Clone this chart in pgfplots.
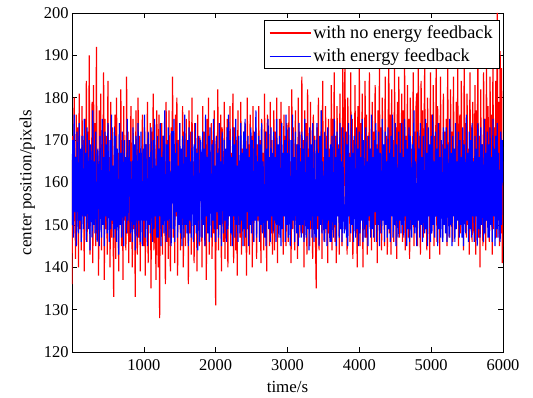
\documentclass[border=0pt]{standalone}
\usepackage{pgfplots}
\pgfplotsset{compat=1.18}
\usepackage{pgfplotstable}
\usepackage{fontspec}
\setmainfont{Liberation Serif}
\pgfplotstableread[row sep=\\]{y\\
136\\171\\148\\180\\155\\142\\176\\151\\173\\140\\181\\149\\166\\144\\178\\152\\170\\139\\175\\157\\
184\\146\\172\\153\\190\\143\\168\\156\\179\\141\\183\\150\\174\\145\\192\\148\\165\\138\\177\\154\\
181\\144\\169\\158\\186\\137\\175\\149\\171\\143\\184\\152\\166\\140\\179\\147\\173\\155\\133\\168\\
176\\142\\180\\150\\167\\139\\174\\156\\182\\145\\170\\137\\178\\151\\163\\144\\185\\148\\172\\141\\
170\\146\\178\\153\\140\\175\\149\\168\\133\\177\\155\\143\\180\\147\\171\\139\\166\\158\\176\\150\\
145\\173\\138\\169\\152\\179\\141\\166\\156\\174\\135\\172\\148\\181\\144\\170\\151\\137\\177\\160\\
140\\176\\128\\168\\149\\174\\143\\171\\155\\165\\136\\179\\146\\170\\142\\177\\153\\139\\173\\158\\
185\\147\\168\\141\\176\\152\\180\\138\\170\\156\\174\\144\\166\\150\\178\\140\\172\\155\\145\\175\\
152\\169\\136\\177\\148\\172\\143\\180\\157\\165\\141\\174\\150\\168\\139\\176\\154\\145\\171\\160\\
166\\140\\178\\151\\172\\145\\169\\137\\175\\153\\180\\143\\167\\156\\174\\142\\170\\148\\177\\150\\
131\\171\\149\\182\\144\\168\\154\\176\\139\\173\\158\\146\\179\\142\\166\\151\\175\\140\\170\\155\\
178\\145\\167\\152\\181\\141\\173\\156\\144\\170\\138\\177\\150\\165\\147\\179\\143\\168\\154\\172\\
145\\174\\157\\138\\180\\149\\169\\143\\176\\152\\171\\140\\178\\146\\166\\155\\173\\142\\169\\151\\
178\\147\\170\\141\\175\\153\\167\\144\\181\\150\\172\\139\\176\\156\\164\\145\\179\\148\\170\\143\\
160\\177\\144\\172\\151\\180\\141\\168\\156\\175\\147\\179\\150\\166\\143\\176\\154\\171\\145\\174\\
171\\146\\178\\152\\165\\141\\182\\149\\173\\155\\144\\177\\151\\169\\142\\180\\147\\172\\157\\148\\
185\\148\\170\\140\\177\\152\\174\\143\\182\\156\\168\\145\\179\\149\\164\\142\\176\\151\\171\\146\\
135\\173\\149\\180\\144\\169\\155\\177\\142\\184\\150\\166\\146\\178\\153\\171\\141\\175\\148\\168\\
157\\183\\144\\175\\150\\186\\146\\171\\141\\178\\154\\169\\143\\181\\149\\173\\145\\188\\152\\166\\
190\\149\\172\\143\\180\\155\\167\\146\\186\\150\\175\\142\\170\\156\\183\\148\\169\\140\\178\\153\\
188\\145\\174\\152\\181\\140\\168\\157\\184\\147\\176\\143\\171\\151\\186\\149\\165\\144\\179\\155\\
172\\146\\183\\150\\169\\141\\177\\156\\187\\148\\173\\144\\180\\152\\167\\145\\185\\150\\171\\143\\
169\\190\\148\\176\\143\\182\\156\\170\\146\\187\\152\\173\\142\\179\\150\\185\\147\\174\\153\\181\\
146\\177\\151\\189\\144\\171\\155\\183\\147\\175\\142\\180\\149\\168\\156\\186\\145\\172\\150\\178\\
181\\145\\190\\158\\171\\143\\184\\151\\177\\147\\169\\188\\149\\174\\144\\180\\155\\167\\142\\186\\
148\\176\\153\\183\\145\\171\\157\\189\\146\\178\\150\\174\\143\\185\\152\\169\\147\\181\\154\\172\\
150\\175\\145\\188\\159\\169\\147\\182\\153\\172\\146\\185\\157\\167\\149\\179\\152\\187\\145\\171\\
176\\148\\184\\151\\170\\144\\190\\155\\174\\147\\181\\150\\168\\143\\186\\153\\173\\146\\179\\149\\
148\\183\\143\\177\\155\\192\\147\\171\\140\\182\\153\\169\\145\\186\\150\\175\\144\\189\\151\\178\\
170\\146\\185\\152\\176\\143\\190\\149\\173\\155\\184\\147\\200\\151\\179\\145\\191\\148\\187\\141\\
165\\
}\rednofb
\pgfplotstableread[row sep=\\]{y\\
150\\170\\147\\176\\153\\166\\145\\172\\158\\148\\174\\151\\168\\146\\171\\155\\149\\175\\152\\167\\
146\\173\\155\\149\\170\\144\\169\\157\\147\\177\\150\\165\\148\\172\\153\\146\\168\\159\\145\\171\\
156\\147\\175\\150\\166\\145\\172\\152\\169\\148\\174\\154\\146\\170\\149\\176\\151\\164\\147\\173\\
149\\171\\146\\168\\155\\143\\174\\150\\167\\147\\172\\158\\145\\170\\152\\166\\148\\175\\151\\162\\
170\\148\\165\\153\\146\\173\\150\\169\\144\\171\\156\\147\\174\\151\\167\\146\\172\\153\\145\\168\\
151\\176\\147\\169\\154\\145\\172\\150\\166\\148\\173\\155\\146\\170\\149\\175\\152\\164\\147\\171\\
147\\168\\152\\174\\145\\166\\150\\171\\148\\177\\153\\146\\169\\151\\173\\147\\165\\156\\145\\172\\
172\\149\\175\\146\\167\\153\\170\\147\\164\\150\\174\\148\\168\\145\\171\\154\\147\\176\\150\\166\\
148\\170\\145\\173\\151\\165\\147\\172\\155\\146\\169\\150\\174\\148\\167\\144\\171\\153\\146\\170\\
165\\147\\172\\150\\168\\145\\176\\152\\166\\148\\171\\146\\173\\155\\147\\169\\151\\175\\149\\164\\
146\\171\\153\\167\\147\\174\\150\\165\\145\\172\\156\\148\\170\\151\\168\\146\\173\\149\\176\\152\\
170\\148\\166\\145\\173\\152\\169\\147\\175\\150\\164\\146\\171\\154\\148\\174\\151\\167\\145\\172\\
149\\175\\147\\168\\153\\171\\145\\166\\150\\173\\148\\170\\155\\146\\172\\151\\177\\147\\165\\152\\
171\\146\\169\\150\\174\\148\\165\\153\\147\\172\\145\\168\\151\\175\\149\\166\\146\\173\\152\\167\\
148\\172\\151\\166\\146\\175\\150\\169\\147\\171\\153\\145\\174\\149\\167\\152\\170\\146\\176\\150\\
167\\147\\173\\152\\145\\170\\149\\176\\151\\166\\146\\172\\154\\148\\169\\145\\174\\150\\165\\147\\
172\\150\\168\\146\\175\\153\\147\\171\\149\\166\\144\\173\\151\\169\\147\\174\\155\\146\\170\\148\\
147\\174\\152\\167\\145\\171\\150\\177\\148\\165\\153\\146\\172\\149\\168\\145\\173\\151\\166\\146\\
169\\146\\171\\154\\147\\175\\150\\166\\145\\172\\152\\168\\147\\174\\149\\165\\146\\173\\153\\148\\
151\\172\\147\\169\\145\\174\\152\\166\\148\\176\\150\\167\\146\\171\\155\\147\\173\\149\\168\\145\\
172\\148\\166\\151\\175\\146\\170\\153\\147\\173\\150\\165\\145\\171\\152\\168\\147\\176\\149\\166\\
147\\170\\153\\174\\146\\168\\150\\172\\145\\167\\154\\148\\175\\151\\169\\146\\172\\150\\165\\147\\
173\\149\\167\\146\\171\\152\\176\\147\\166\\150\\174\\145\\169\\153\\147\\172\\151\\167\\148\\174\\
150\\166\\147\\175\\152\\170\\145\\168\\149\\173\\146\\171\\154\\147\\169\\150\\177\\148\\165\\152\\
145\\172\\151\\168\\147\\174\\150\\166\\146\\171\\153\\148\\175\\149\\167\\145\\173\\152\\169\\146\\
171\\148\\176\\150\\165\\147\\172\\152\\168\\145\\174\\149\\166\\147\\170\\153\\146\\173\\150\\168\\
148\\173\\146\\169\\154\\147\\175\\150\\167\\145\\171\\152\\168\\146\\174\\149\\165\\151\\172\\147\\
170\\150\\166\\147\\173\\145\\169\\153\\148\\176\\151\\167\\146\\172\\149\\170\\147\\174\\152\\165\\
146\\171\\152\\168\\145\\174\\149\\166\\147\\173\\150\\169\\154\\146\\175\\148\\167\\151\\172\\147\\
169\\147\\173\\150\\166\\146\\175\\152\\168\\145\\171\\149\\174\\147\\167\\153\\146\\172\\150\\170\\
160\\
}\bluefb
\begin{document}
\begin{tikzpicture}
\begin{axis}[
  scale only axis,
  width=431bp, height=339bp,
  xmin=0, xmax=6000, ymin=120, ymax=200,
  xtick={1000,2000,3000,4000,5000,6000},
  ytick={120,130,...,200},
  tick align=inside,
  major tick length=5bp,
  axis line style={line width=0.7bp},
  tick style={line width=0.6bp, black},
  /pgf/number format/1000 sep={},
  /pgf/number format/assume math mode=true,
  ticklabel style={font=\fontsize{16.5}{18}\selectfont},
  xticklabel style={yshift=-4bp},
  label style={font=\fontsize{17}{18}\selectfont},
  xlabel={time/s},
  ylabel={center position/pixels},
  xlabel style={yshift=-4bp},
  ylabel style={yshift=2bp},
  legend style={at={(rel axis cs:0.993,0.978)}, anchor=north east,
    font=\fontsize{18.3}{20}\selectfont, line width=0.7bp,
    inner xsep=5bp, inner ysep=3bp, row sep=5bp},
  legend cell align=left,
]
\addplot[draw=red, line width=1.2bp, forget plot] table[x expr=\coordindex*10, y=y] {\rednofb};
\addplot[draw=blue, line width=1.2bp, forget plot] table[x expr=\coordindex*10, y=y] {\bluefb};
\addlegendimage{legend image code/.code={\draw[red, line width=1.1bp] (0bp,0bp) -- (41bp,0bp);}}
\addlegendentry{with no energy feedback}
\addlegendimage{legend image code/.code={\draw[blue, line width=1.1bp] (0bp,0bp) -- (41bp,0bp);}}
\addlegendentry{with energy feedback}
\end{axis}
\path (-72bp,-46bp) rectangle (461bp,352bp);
\end{tikzpicture}
\end{document}
